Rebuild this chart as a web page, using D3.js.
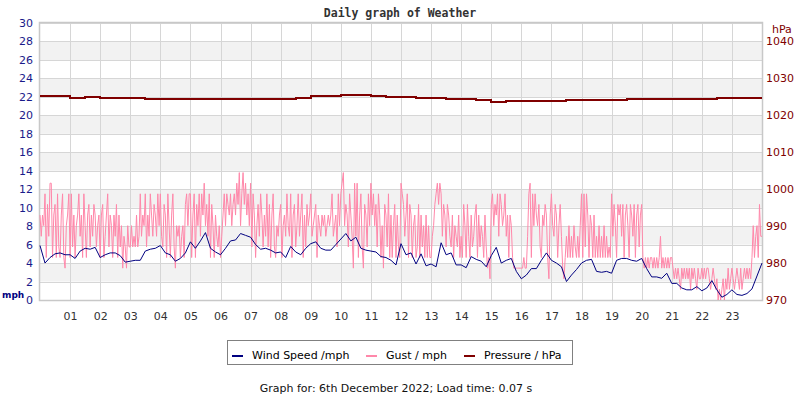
<!DOCTYPE html>
<html>
<head>
<meta charset="utf-8">
<script src="https://cdn.jsdelivr.net/npm/d3@7"></script>
<style>
    body { margin: 0; background: #fff; }
    text { font-family: "DejaVu Sans", sans-serif; }
</style>
</head>
<body>
<div id="container"></div>
<script>
// hour tick labels along the bottom
const hourLabels = ["01", "02", "03", "04", "05", "06", "07", "08", "09", "10", "11", "12",
    "13", "14", "15", "16", "17", "18", "19", "20", "21", "22", "23"];
const mphTicks = [0, 2, 4, 6, 8, 10, 12, 14, 16, 18, 20, 22, 24, 26, 28, 30];
const hpaTicks = [970, 980, 990, 1000, 1010, 1020, 1030, 1040];

// wind speed, every 10 minutes (mph)
const windSpeed = [
    5.9, 4.0, 4.6, 5.0, 5.1, 4.9,
    4.9, 4.5, 5.3, 5.6, 5.5, 5.7,
    4.6, 4.9, 5.1, 5.1, 4.8, 4.1,
    4.2, 4.3, 4.3, 5.3, 5.5, 5.6,
    5.9, 5.1, 4.9, 4.2, 4.5, 5.1,
    6.3, 5.6, 6.4, 7.3, 5.6, 5.2,
    4.9, 5.6, 6.4, 6.5, 7.2, 7.0,
    6.8, 6.0, 5.5, 5.6, 5.4, 5.1,
    5.2, 4.6, 5.8, 5.2, 4.9, 5.6,
    6.1, 6.3, 5.6, 5.4, 5.4, 6.0,
    6.6, 7.2, 6.4, 6.8, 5.6, 5.4,
    5.3, 5.2, 4.7, 4.6, 4.3, 3.8,
    6.1, 4.9, 5.1, 3.9, 5.0, 3.7,
    3.9, 3.6, 6.2, 4.9, 5.1, 3.8,
    3.8, 3.5, 4.7, 4.4, 4.2, 3.6,
    4.8, 5.7, 4.0, 4.3, 4.5, 3.1,
    2.3, 2.7, 3.4, 3.4, 4.3, 5.1,
    4.3, 4.0, 3.6, 2.0, 2.7, 3.3,
    4.0, 4.3, 4.4, 3.1, 3.0, 3.1,
    2.9, 4.3, 4.5, 4.5, 4.3, 4.2,
    4.5, 3.4, 2.5, 2.5, 2.35, 2.9,
    1.8, 1.8, 1.3, 1.1, 1.1, 1.45,
    1.0, 1.3, 2.1, 1.1, 0.3, 0.6,
    1.1, 0.6, 0.5, 0.7, 1.2, 2.6,
    4.0
];

// gust, every 2.5 minutes (mph), one row per hour
const gust = [
    9.2, 6.9, 9.2, 8.05, 11.5, 4.6, 10.35, 6.9, 12.65, 12.65, 4.6, 9.2, 10.35, 4.6, 11.5, 5.75, 4.6, 9.2, 11.5, 4.6, 3.45, 8.05, 9.2, 11.5,
    4.6, 11.5, 5.75, 9.2, 4.6, 8.05, 9.2, 11.5, 6.9, 9.2, 4.6, 11.5, 8.05, 4.6, 9.2, 10.35, 5.75, 9.2, 6.9, 10.35, 9.2, 5.75, 8.05, 9.2,
    4.6, 9.2, 10.35, 4.6, 6.9, 9.2, 11.5, 5.75, 9.2, 8.05, 4.6, 9.2, 6.9, 10.35, 4.6, 9.2, 5.75, 8.05, 3.45, 6.9, 5.75, 3.45, 8.05, 5.75,
    5.75, 8.05, 5.75, 6.9, 5.75, 9.2, 5.75, 6.9, 11.5, 6.9, 9.2, 8.05, 11.5, 5.75, 9.2, 6.9, 11.5, 9.2, 6.9, 10.35, 9.2, 6.9, 11.5, 8.05,
    11.5, 6.9, 5.75, 10.35, 9.2, 4.6, 11.5, 8.05, 4.6, 9.2, 11.5, 5.75, 3.45, 8.05, 6.9, 8.05, 4.6, 6.9, 8.05, 4.6, 10.35, 11.5, 8.05, 11.5,
    11.5, 4.6, 9.2, 11.5, 4.6, 10.35, 8.05, 11.5, 6.9, 11.5, 9.2, 12.65, 8.05, 10.35, 6.9, 11.5, 4.6, 10.35, 8.05, 4.6, 9.2, 6.9, 5.75, 8.05,
    4.6, 6.9, 9.2, 11.5, 8.05, 11.5, 10.35, 9.2, 11.5, 8.05, 10.35, 11.5, 9.2, 12.65, 10.35, 13.8, 8.05, 11.5, 13.8, 10.35, 12.65, 9.2, 11.5, 8.05,
    12.65, 5.75, 11.5, 9.2, 4.6, 8.05, 10.35, 6.9, 11.5, 9.2, 5.75, 9.2, 6.9, 11.5, 5.75, 10.35, 4.6, 9.2, 11.5, 5.75, 4.6, 8.05, 6.9, 9.2,
    10.35, 4.6, 8.05, 9.2, 6.9, 11.5, 8.05, 6.9, 11.5, 4.6, 9.2, 10.35, 5.75, 8.05, 11.5, 6.9, 9.2, 11.5, 4.6, 9.2, 5.75, 10.35, 8.05, 9.2,
    11.5, 6.9, 8.05, 9.2, 10.35, 4.6, 9.2, 8.05, 6.9, 9.2, 8.05, 9.2, 6.9, 8.05, 9.2, 8.05, 9.2, 11.5, 6.9, 8.05, 9.2, 5.75, 11.5, 8.05,
    11.5, 12.65, 13.8, 8.05, 10.35, 9.2, 5.75, 11.5, 9.2, 6.9, 3.45, 12.65, 6.9, 12.65, 4.6, 9.2, 11.5, 5.75, 3.45, 10.35, 9.2, 5.75, 11.5, 8.05,
    12.65, 9.2, 11.5, 8.05, 10.35, 5.75, 11.5, 9.2, 4.6, 8.05, 3.45, 10.35, 9.2, 5.75, 11.5, 4.6, 9.2, 4.6, 8.05, 10.35, 4.6, 9.2, 5.75, 4.6,
    12.65, 11.5, 10.35, 6.9, 9.2, 11.5, 4.6, 10.35, 9.2, 4.6, 8.05, 9.2, 4.6, 5.75, 10.35, 4.6, 9.2, 5.75, 8.05, 4.6, 9.2, 4.6, 8.05, 4.6,
    4.6, 6.9, 8.05, 10.35, 11.5, 12.65, 10.35, 12.65, 11.5, 6.9, 10.35, 9.2, 5.75, 10.35, 9.2, 6.9, 5.75, 9.2, 4.6, 8.05, 6.9, 5.75, 9.2, 4.6,
    6.9, 4.6, 10.35, 8.05, 4.6, 10.35, 6.9, 4.6, 9.2, 5.75, 6.9, 9.2, 10.35, 4.6, 9.2, 5.75, 8.05, 6.9, 4.6, 9.2, 5.75, 3.45, 4.6, 2.3,
    10.35, 11.5, 8.05, 10.35, 9.2, 11.5, 6.9, 11.5, 10.35, 8.05, 9.2, 11.5, 6.9, 9.2, 4.6, 9.2, 8.05, 4.6, 3.45, 3.45, 3.45, 3.45, 3.45, 3.45,
    3.45, 3.45, 4.6, 3.45, 3.45, 6.9, 11.5, 12.65, 4.6, 11.5, 8.05, 11.5, 9.2, 8.05, 10.35, 5.75, 4.6, 9.2, 8.05, 10.35, 9.2, 4.6, 2.3, 9.2,
    11.5, 8.05, 6.9, 10.35, 9.2, 4.6, 8.05, 10.35, 6.9, 3.45, 2.3, 4.6, 6.9, 4.6, 8.05, 4.6, 6.9, 4.6, 8.05, 5.75, 4.6, 6.9, 4.6, 8.05,
    11.5, 4.6, 11.5, 5.75, 11.5, 9.2, 4.6, 9.2, 8.05, 4.6, 9.2, 4.6, 6.9, 4.6, 8.05, 4.6, 6.9, 4.6, 8.05, 4.6, 6.9, 4.6, 5.75, 4.6,
    11.5, 6.9, 10.35, 8.05, 4.6, 10.35, 9.2, 10.35, 6.9, 10.35, 4.6, 9.2, 10.35, 8.05, 4.6, 10.35, 9.2, 6.9, 10.35, 4.6, 9.2, 10.35, 5.75, 9.2,
    10.35, 4.6, 3.45, 4.6, 3.45, 4.6, 3.45, 4.6, 4.6, 3.45, 4.6, 3.45, 4.6, 3.45, 4.6, 6.9, 3.45, 4.6, 3.45, 4.6, 3.45, 4.6, 3.45, 4.6,
    4.6, 3.45, 2.3, 3.45, 2.3, 3.45, 2.3, 1.15, 3.45, 2.3, 3.45, 2.3, 3.45, 2.3, 3.45, 1.15, 3.45, 2.3, 3.45, 2.3, 1.15, 3.45, 2.3, 2.3,
    3.45, 2.3, 3.45, 2.3, 3.45, 3.45, 2.3, 1.15, 2.3, 3.45, 2.3, 1.15, 2.3, 0, 1.15, 0, 1.15, 2.3, 0, 2.3, 1.15, 3.45, 1.15, 2.3,
    3.45, 2.3, 1.15, 2.3, 3.45, 2.3, 1.15, 3.45, 1.15, 2.3, 3.45, 2.3, 3.45, 2.3, 3.45, 2.3, 4.6, 8.05, 4.6, 6.9, 8.05, 4.6, 10.35, 6.9,
    6.9
];

// pressure, every 30 minutes (hPa)
const pressure = [
    1025.1, 1025.1, 1024.75, 1024.9, 1024.7, 1024.7, 1024.6, 1024.5,
    1024.5, 1024.5, 1024.5, 1024.4, 1024.3, 1024.3, 1024.5, 1024.5,
    1024.5, 1024.75, 1025.15, 1025.2, 1025.4, 1025.5, 1025.2, 1025.0,
    1025.0, 1024.7, 1024.6, 1024.4, 1024.3, 1024.1, 1023.7, 1023.85,
    1023.95, 1024.0, 1024.0, 1024.05, 1024.1, 1024.2, 1024.2, 1024.3,
    1024.3, 1024.3, 1024.3, 1024.3, 1024.3, 1024.7, 1024.7, 1024.7,
    1024.7
];

const legendItems = [
    {label: "Wind Speed /mph", color: "#000080"},
    {label: "Gust / mph", color: "#ff88aa"},
    {label: "Pressure / hPa", color: "#800000"}
];

const width = 800, height = 400;
const plotLeft = 40, plotRight = 762, plotTop = 23, plotBottom = 300;

const svg = d3.select("div#container")
    .append("svg")
    .attr("width", width)
    .attr("height", height);
svg.append("rect")
    .attr("width", width)
    .attr("height", height)
    .attr("fill", "#fff");

const x = d3.scaleLinear().domain([0, 24]).range([plotLeft, plotRight]);
const yMph = d3.scaleLinear().domain([0, 30]).range([plotBottom, plotTop]);
const yHpa = d3.scaleLinear().domain([970, 1045]).range([plotBottom, plotTop]);

// hour of day for the i-th sample of a series spread evenly over the day
const hourOf = (series, i) => i * 24 / (series.length - 1);

// alternating background bands
svg.append("g")
    .selectAll()
    .data(mphTicks.slice(0, -1).filter(d => (d / 2) % 2 === 1))
    .join("rect")
    .attr("x", plotLeft)
    .attr("width", plotRight - plotLeft)
    .attr("y", d => yMph(d + 2))
    .attr("height", d => yMph(d) - yMph(d + 2))
    .attr("fill", "#f2f2f2");

// grid
const grid = svg.append("g")
    .attr("stroke", "#d6d6d6")
    .attr("stroke-width", 1)
    .attr("shape-rendering", "crispEdges");
grid.selectAll(".h")
    .data(mphTicks)
    .join("line")
    .attr("x1", plotLeft).attr("x2", plotRight)
    .attr("y1", d => Math.round(yMph(d)) + 0.5)
    .attr("y2", d => Math.round(yMph(d)) + 0.5);
grid.selectAll(".v")
    .data(hourLabels)
    .join("line")
    .attr("x1", (d, i) => Math.round(x(i + 1)) + 0.5)
    .attr("x2", (d, i) => Math.round(x(i + 1)) + 0.5)
    .attr("y1", plotTop).attr("y2", plotBottom);
svg.append("rect")
    .attr("x", plotLeft - 0.5)
    .attr("y", plotTop - 0.5)
    .attr("width", plotRight - plotLeft + 1)
    .attr("height", plotBottom - plotTop + 1)
    .attr("fill", "none")
    .attr("stroke", "#c8c8c8")
    .attr("stroke-width", 1.5);

// series
const gustLine = d3.line()
    .x((d, i) => x(hourOf(gust, i)))
    .y(d => yMph(d));
svg.append("path")
    .datum(gust)
    .attr("fill", "none")
    .attr("stroke", "#ff88aa")
    .attr("stroke-width", 1)
    .attr("d", gustLine);

const windLine = d3.line()
    .x((d, i) => x(hourOf(windSpeed, i)))
    .y(d => yMph(d));
svg.append("path")
    .datum(windSpeed)
    .attr("fill", "none")
    .attr("stroke", "#000080")
    .attr("stroke-width", 1)
    .attr("d", windLine);

const pressureLine = d3.line()
    .x((d, i) => x(hourOf(pressure, i)))
    .y(d => Math.round(yHpa(d)))
    .curve(d3.curveStepAfter);
svg.append("path")
    .datum(pressure)
    .attr("fill", "none")
    .attr("stroke", "#800000")
    .attr("stroke-width", 2)
    .attr("shape-rendering", "crispEdges")
    .attr("d", pressureLine);

// axes labels
svg.append("g")
    .attr("font-size", 11)
    .attr("fill", "#1a1a8a")
    .attr("text-anchor", "end")
    .selectAll()
    .data(mphTicks)
    .join("text")
    .attr("x", 33)
    .attr("y", d => yMph(d) + 4)
    .text(d => d);
svg.append("text")
    .attr("x", 2)
    .attr("y", 298)
    .attr("font-size", 9)
    .attr("font-weight", "bold")
    .attr("fill", "#000080")
    .text("mph");

svg.append("g")
    .attr("font-size", 11)
    .attr("fill", "#800000")
    .selectAll()
    .data(hpaTicks)
    .join("text")
    .attr("x", 766)
    .attr("y", d => yHpa(d) + 4)
    .text(d => d);
svg.append("text")
    .attr("x", 772)
    .attr("y", 33)
    .attr("font-size", 11)
    .attr("fill", "#800000")
    .text("hPa");

svg.append("g")
    .attr("font-size", 11)
    .attr("fill", "#333")
    .attr("text-anchor", "middle")
    .selectAll()
    .data(hourLabels)
    .join("text")
    .attr("x", (d, i) => x(i + 1) + 0.5)
    .attr("y", 320)
    .text(d => d);

// title
svg.append("text")
    .attr("x", 400)
    .attr("y", 17)
    .attr("text-anchor", "middle")
    .style("font-family", "'DejaVu Sans Mono', monospace")
    .attr("font-size", 11.5)
    .attr("font-weight", "bold")
    .attr("fill", "#333")
    .text("Daily graph of Weather");

// legend
svg.append("rect")
    .attr("x", 227.5)
    .attr("y", 340.5)
    .attr("width", 345)
    .attr("height", 24)
    .attr("fill", "#fff")
    .attr("stroke", "#808080");
const legendX = [232, 366, 464];
const item = svg.append("g")
    .selectAll()
    .data(legendItems)
    .join("g")
    .attr("transform", (d, i) => `translate(${legendX[i]},356)`);
item.append("rect")
    .attr("width", 11)
    .attr("height", 2)
    .attr("y", -1)
    .attr("fill", d => d.color);
item.append("text")
    .attr("x", 20)
    .attr("y", 3)
    .attr("font-size", 11)
    .attr("fill", "#000")
    .text(d => d.label);

svg.append("text")
    .attr("x", 396)
    .attr("y", 392)
    .attr("text-anchor", "middle")
    .attr("font-size", 11)
    .attr("fill", "#111")
    .text("Graph for: 6th December 2022; Load time: 0.07 s");
</script>
</body>
</html>
